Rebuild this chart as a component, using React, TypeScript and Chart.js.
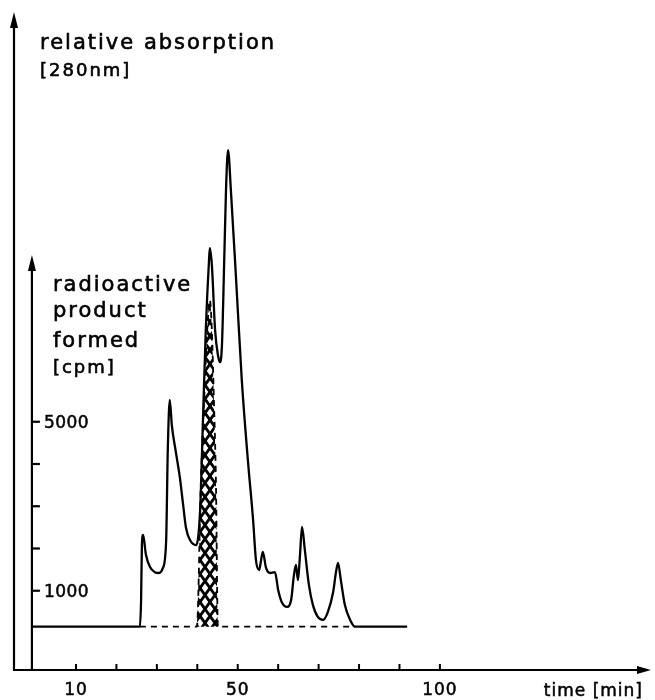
import React, { useEffect, useRef } from "react";
import { Chart, registerables } from "chart.js";

Chart.register(...registerables);

// ---- data (time in min, value in cpm-scale units) ----
const absorptionTime = [
  -0.9, 25.8, 26.1, 26.3, 26.6, 27.3, 28.3, 29.5, 30.5, 31.5, 32.3, 32.7, 33.2, 33.7, 34.7, 35.7, 36.5,
  37.2, 38.2, 39.7, 40.7, 41.4, 42.1, 42.9, 43.1, 43.6, 44.4, 45.1, 45.6, 46.1, 46.6, 47.1, 47.6, 48.3,
  49.6, 51.0, 52.5, 53.8, 54.5, 55.3, 55.7, 56.2, 57.0, 58.0, 59.2, 60.0, 60.9, 62.2, 63.2, 63.9, 64.4,
  64.9, 65.4, 65.9, 66.6, 67.6, 68.6, 69.8, 71.1, 72.3, 73.6, 74.3, 74.8, 75.5, 76.5, 77.8, 79.0, 91.9,
];
const absorptionValue = [
  150, 150, 780, 2080, 2320, 1850, 1560, 1440, 1420, 1540, 2200, 4330, 5520, 4920, 4280, 3670, 3030,
  2490, 2200, 2080, 2910, 5040, 7170, 8830, 9110, 8710, 7170, 6580, 6410, 6820, 8590, 10490, 11430, 10490,
  8360, 5990, 4100, 2670, 1730, 1490, 1680, 1920, 1540, 1420, 1440, 1020, 730, 620, 780, 1370, 1610,
  1250, 1850, 2510, 1960, 1140, 660, 380, 310, 500, 970, 1440, 1660, 1250, 660, 310, 150, 150,
];
const productTime = [25.8, 39.9, 40.9, 41.9, 42.6, 43.1, 43.6, 44.1, 44.6, 45.1, 79.0];
const productValue = [150, 150, 3620, 5990, 7410, 7880, 7170, 5520, 3620, 150, 150];
const baselineValue = 150;

const xTickValues = [10, 20, 30, 40, 50, 60, 70, 80, 90, 100];
const xTickLabels = ["10", "", "", "", "50", "", "", "", "", "100"];
const yTickValues = [1000, 2000, 3000, 4000, 5000];
const yTickLabels = ["1000", "", "", "", "5000"];
const outerAxisTitle = ["relative absorption", "[280nm]"];
const innerAxisTitle = ["radioactive", "product", "formed", "[cpm]"];
const xAxisTitle = "time [min]";
const innerAxisTime = -0.9;
const innerAxisTop = 8950;

const INK = "#000";
const FONT = '"DejaVu Sans", sans-serif';

const axesPlugin = {
  id: "handAxes",
  afterDatasetsDraw(chart: any) {
    const { ctx, chartArea: a, scales } = chart;
    const xs = scales.x;
    const ys = scales.y;
    ctx.save();
    ctx.strokeStyle = INK;
    ctx.fillStyle = INK;
    ctx.lineWidth = 2.2;
    const line = (x1: number, y1: number, x2: number, y2: number) => {
      ctx.beginPath();
      ctx.moveTo(x1, y1);
      ctx.lineTo(x2, y2);
      ctx.stroke();
    };
    const arrowUp = (x: number, y: number) => {
      ctx.beginPath();
      ctx.moveTo(x, y);
      ctx.lineTo(x + 4, y + 16);
      ctx.lineTo(x - 4, y + 16);
      ctx.closePath();
      ctx.fill();
    };
    const arrowRight = (x: number, y: number) => {
      ctx.beginPath();
      ctx.moveTo(x, y);
      ctx.lineTo(x - 14, y - 4);
      ctx.lineTo(x - 14, y + 4);
      ctx.closePath();
      ctx.fill();
    };
    const text = (s: string, x: number, y: number) => {
      ctx.fillText(s, x, y);
      ctx.strokeText(s, x, y);
    };
    // outer y axis
    const ox = a.left;
    line(ox, a.bottom + 1, ox, a.top + 12);
    arrowUp(ox, a.top);
    // x axis
    line(a.left - 1, a.bottom, a.right - 10, a.bottom);
    arrowRight(a.right, a.bottom);
    // inner y axis
    const ix = xs.getPixelForValue(innerAxisTime);
    const itop = ys.getPixelForValue(innerAxisTop);
    line(ix, a.bottom + 1, ix, itop + 12);
    arrowUp(ix, itop);

    // x ticks
    ctx.font = "17px " + FONT;
    (ctx as any).letterSpacing = "1px";
    ctx.textAlign = "center";
    ctx.textBaseline = "alphabetic";
    xTickValues.forEach((v, i) => {
      const px = xs.getPixelForValue(v);
      ctx.lineWidth = 2;
      line(px, a.bottom, px, a.bottom - 6);
      ctx.lineWidth = 0.5;
      if (xTickLabels[i]) text(xTickLabels[i], px, a.bottom + 25);
    });
    ctx.textAlign = "right";
    text(xAxisTitle, a.right - 8, a.bottom + 26);

    // y ticks (inner axis)
    ctx.textAlign = "left";
    (ctx as any).letterSpacing = "0.5px";
    yTickValues.forEach((v, i) => {
      const py = ys.getPixelForValue(v);
      ctx.lineWidth = 2.2;
      line(ix, py, ix + 8, py);
      ctx.lineWidth = 0.5;
      if (yTickLabels[i]) text(yTickLabels[i], ix + 12, py + 6);
    });

    // outer axis title
    ctx.lineWidth = 0.6;
    (ctx as any).letterSpacing = "2px";
    ctx.font = "21px " + FONT;
    text(outerAxisTitle[0], ox + 26, a.top + 37);
    ctx.font = "18px " + FONT;
    text(outerAxisTitle[1], ox + 26, a.top + 64);

    // inner axis title
    ctx.font = "21px " + FONT;
    text(innerAxisTitle[0], ix + 21, itop + 36);
    text(innerAxisTitle[1], ix + 21, itop + 62);
    text(innerAxisTitle[2], ix + 21, itop + 92);
    ctx.font = "18px " + FONT;
    text(innerAxisTitle[3], ix + 21, itop + 118);
    ctx.restore();
  },
};

export default function App() {
  const ref = useRef<HTMLCanvasElement>(null);
  useEffect(() => {
    const canvas = ref.current!;
    const pw = 10;
    const ph = 14;
    const pc = document.createElement("canvas");
    pc.width = pw;
    pc.height = ph;
    const p = pc.getContext("2d")!;
    p.strokeStyle = INK;
    p.lineWidth = 2.8;
    for (const dx of [-pw, 0, pw]) {
      for (const dy of [-ph, 0, ph]) {
        p.beginPath();
        p.moveTo(dx, dy);
        p.lineTo(dx + pw, dy + ph);
        p.moveTo(dx + pw, dy);
        p.lineTo(dx, dy + ph);
        p.stroke();
      }
    }
    const pattern = canvas.getContext("2d")!.createPattern(pc, "repeat")!;

    const chart = new Chart(canvas, {
      type: "line",
      data: {
        datasets: [
          {
            label: "relative absorption",
            data: absorptionTime.map((t, i) => ({ x: t, y: absorptionValue[i] })),
            borderColor: INK,
            borderWidth: 2.3,
            pointRadius: 0,
            cubicInterpolationMode: "monotone",
            fill: false,
          },
          {
            label: "radioactive product formed",
            data: productTime.map((t, i) => ({ x: t, y: productValue[i] })),
            borderColor: INK,
            borderWidth: 1.8,
            borderDash: [6, 5],
            pointRadius: 0,
            cubicInterpolationMode: "monotone",
            backgroundColor: pattern,
            fill: { value: baselineValue },
          },
        ],
      },
      options: {
        animation: false,
        responsive: false,
        events: [],
        layout: { padding: { left: 14, right: 4, top: 12, bottom: 30 } },
        scales: {
          x: { type: "linear", min: -5.33, max: 152.2, display: false },
          y: { type: "linear", min: -876, max: 14699, display: false },
        },
        plugins: {
          legend: { display: false },
          tooltip: { enabled: false },
        },
      },
      plugins: [axesPlugin],
    } as any);
    return () => chart.destroy();
  }, []);

  return (
    <div style={{ position: "absolute", left: 0, top: 0, width: 655, height: 700, background: "#fff" }}>
      <canvas ref={ref} width={655} height={700} style={{ width: 655, height: 700, display: "block" }} />
    </div>
  );
}
